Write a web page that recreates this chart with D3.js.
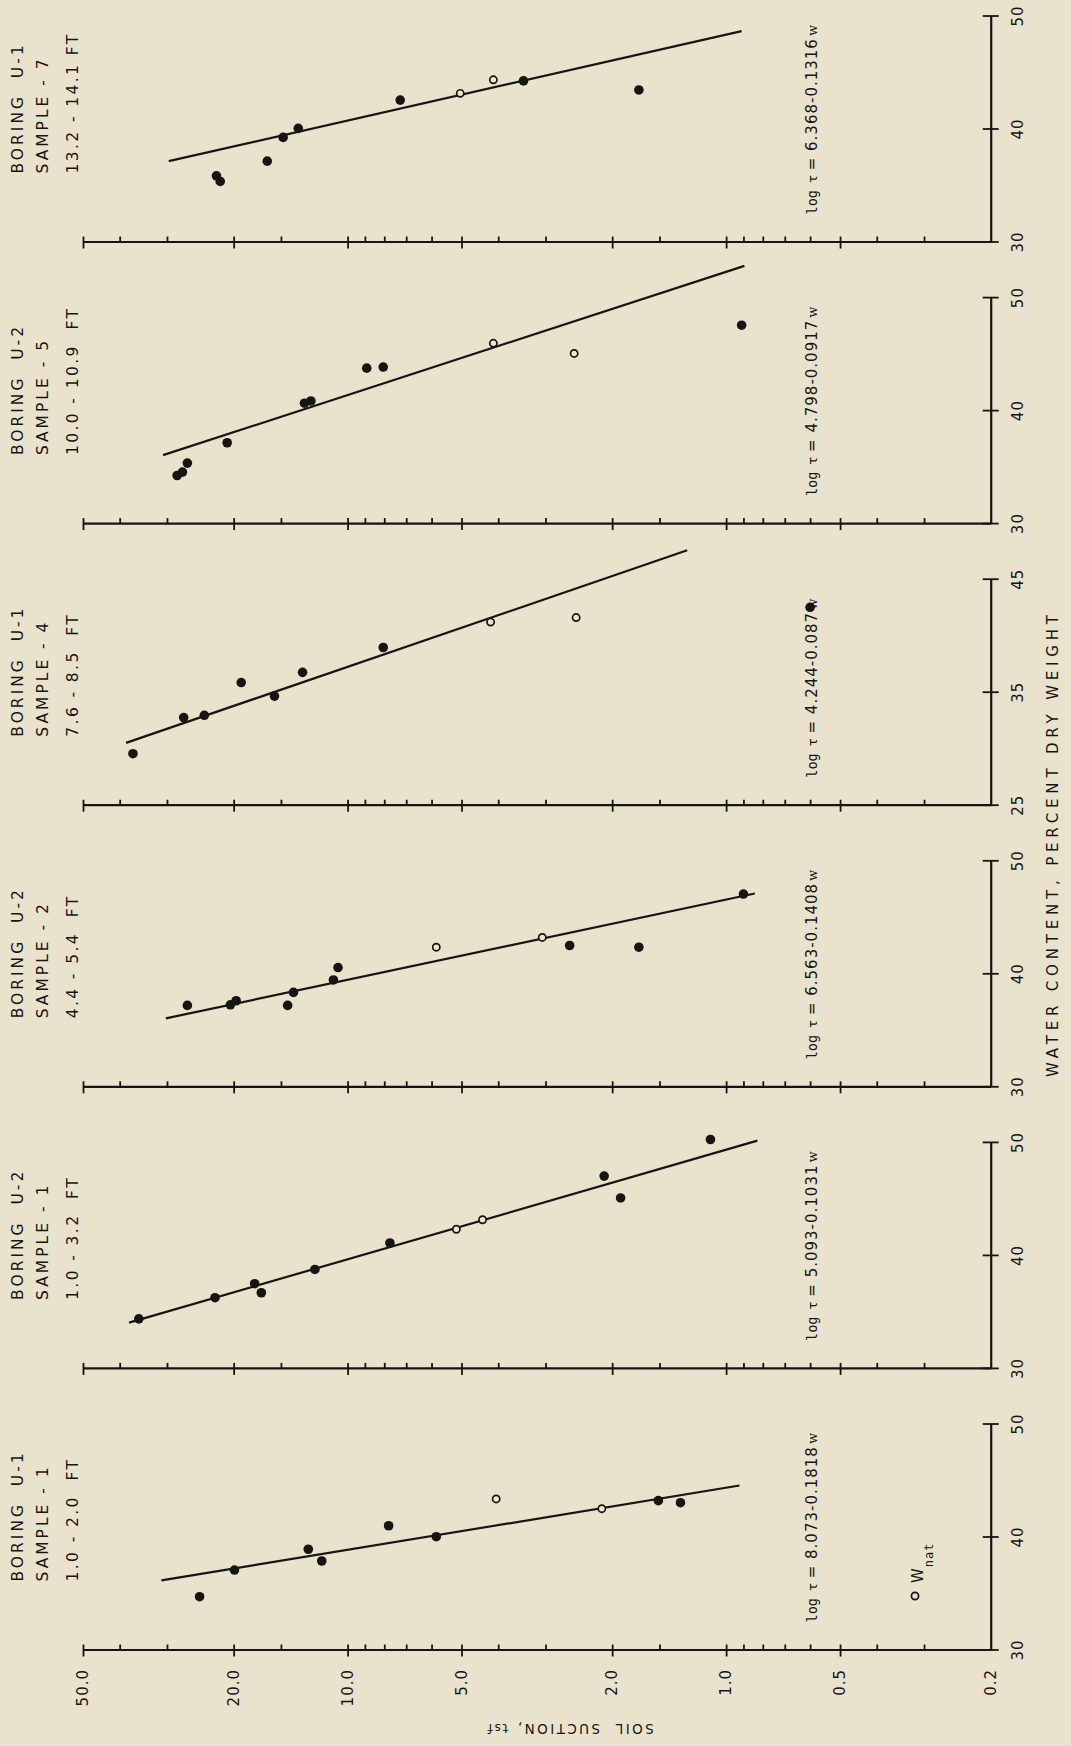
<!DOCTYPE html>
<html>
<head>
<meta charset="utf-8">
<script src="https://cdn.jsdelivr.net/npm/d3@7"></script>
<style>
  html, body { margin: 0; padding: 0; background: #e9e2cd; }
  svg { display: block; }
</style>
</head>
<body>
<svg id="chart" width="1071" height="1746"></svg>
<script>
// Soil suction vs. water content, one panel per sample (left to right on the page)
const borings = ["U-1", "U-2", "U-2", "U-1", "U-2", "U-1"];
const samples = ["1", "1", "2", "4", "5", "7"];
const depths = ["1.0 - 2.0  FT", "1.0 - 3.2  FT", "4.4 - 5.4  FT", "7.6 - 8.5  FT", "10.0 - 10.9  FT", "13.2 - 14.1 FT"];

// Fitted lines: log τ = a - b·w
const intercepts = [8.073, 5.093, 6.563, 4.244, 4.798, 6.368];
const slopes = [0.1818, 0.1031, 0.1408, 0.087, 0.0917, 0.1316];
const interceptText = ["8.073", "5.093", "6.563", "4.244", "4.798", "6.368"];
const slopeText = ["0.1818", "0.1031", "0.1408", "0.087", "0.0917", "0.1316"];
// water-content extent over which each fitted line is drawn
const fitRange = [[36.2, 44.6], [34.1, 50.2], [36.1, 47.15], [30.56, 47.6], [36.1, 52.85], [37.2, 48.7]];

// Water-content axis of each panel
const wMin = [30, 30, 30, 25, 30, 30];
const wTicks = [[30, 40, 50], [30, 40, 50], [30, 40, 50], [25, 35, 45], [30, 40, 50], [30, 40, 50]];

// Measured points [soil suction (tsf), water content (%)]
const filledPoints = [
  [[24.6, 34.76], [19.9, 37.12], [12.7, 38.96], [11.7, 37.92], [7.79, 41.04], [5.83, 40.07], [1.51, 43.26], [1.32, 43.08]],
  [[35.6, 34.43], [22.4, 36.3], [17.6, 37.54], [16.9, 36.74], [12.2, 38.8], [7.73, 41.14], [2.10, 47.06], [1.90, 45.13], [1.10, 50.3]],
  [[26.5, 37.25], [20.4, 37.3], [19.7, 37.66], [14.4, 37.25], [13.9, 38.4], [10.9, 39.5], [10.6, 40.6], [2.59, 42.55], [1.70, 42.4], [0.90, 47.1]],
  [[36.9, 29.6], [27.1, 32.8], [23.9, 33.0], [19.1, 35.9], [15.6, 34.7], [13.15, 36.8], [8.05, 39.0], [0.60, 42.56]],
  [[28.2, 34.3], [27.3, 34.6], [26.5, 35.4], [20.8, 37.2], [13.0, 40.7], [12.5, 40.9], [8.9, 43.8], [8.05, 43.9], [0.91, 47.6]],
  [[22.2, 35.9], [21.7, 35.4], [16.3, 37.2], [14.8, 39.3], [13.5, 40.1], [7.26, 42.6], [3.43, 44.3], [1.70, 43.5]]
];
// Natural water content points (open circles)
const openPoints = [
  [[4.05, 43.41], [2.13, 42.55]],
  [[5.16, 42.36], [4.40, 43.2]],
  [[5.83, 42.4], [3.06, 43.26]],
  [[4.19, 41.25], [2.49, 41.65]],
  [[4.12, 46.0], [2.52, 45.1]],
  [[5.04, 43.2], [4.12, 44.4]]
];

// Soil suction (log) axis ticks
const suctionMajor = [50, 20, 10, 5, 2, 1, 0.5, 0.2];
const suctionLabels = ["50.0", "20.0", "10.0", "5.0", "2.0", "1.0", "0.5", "0.2"];
const suctionMinor = [40, 30, 15, 9, 8, 7, 6, 4, 3, 1.5, 0.9, 0.8, 0.7, 0.6, 0.4, 0.3];

const W = 1071, H = 1746;
const ink = "#171513";
const sans = "'DejaVu Sans', 'Noto Sans', sans-serif";
const mono = "'DejaVu Sans Mono', 'Liberation Mono', monospace";

const svg = d3.select("#chart");
svg.append("rect").attr("width", W).attr("height", H).attr("fill", "#e9e2cd");

// The figure is laid out landscape and turned a quarter turn on the page
const g = svg.append("g").attr("transform", `translate(0,${H}) rotate(-90)`);

const y = d3.scaleLog().domain([50, 0.2]).range([83, 990.7]);
const panelLeft = 95.5, panelStep = 281.6, panelWidth = 226;
const majorSet = new Set(suctionMajor);

function styleAxis(sel) {
  sel.attr("font-family", sans).attr("font-size", 15);
  sel.selectAll("path.domain").attr("stroke", ink).attr("stroke-width", 2.2);
  sel.selectAll(".tick line").attr("stroke", ink).attr("stroke-width", 1.8);
  sel.selectAll(".tick text").attr("fill", ink);
}

borings.forEach((boring, i) => {
  const x0 = panelLeft + panelStep * i;
  const x = d3.scaleLinear().domain([wMin[i], wMin[i] + 20]).range([x0, x0 + panelWidth]);
  const p = g.append("g").attr("class", "panel");

  // soil suction axis with ticks pointing into the panel
  const ya = p.append("g").attr("transform", `translate(${x0},0)`)
    .call(d3.axisRight(y).tickValues(suctionMajor.concat(suctionMinor))
      .tickSize(6).tickSizeOuter(0).tickFormat(""));
  ya.selectAll(".tick").filter(d => majorSet.has(d) && d !== 0.2).select("line").attr("x1", -6);
  ya.selectAll(".tick").filter(d => d === 0.2).remove();
  styleAxis(ya);

  // water content axis
  const xa = p.append("g").attr("transform", `translate(0,${y(0.2)})`)
    .call(d3.axisBottom(x).tickValues(wTicks[i]).tickSize(8).tickSizeOuter(0).tickPadding(14));
  xa.selectAll(".tick line").attr("y1", -8);
  styleAxis(xa);
  xa.selectAll(".tick text").attr("letter-spacing", 1);

  // fitted line
  const a = intercepts[i], b = slopes[i];
  const line = d3.line().x(d => x(d)).y(d => y(Math.pow(10, a - b * d)));
  p.append("path").datum(fitRange[i]).attr("d", line)
    .attr("fill", "none").attr("stroke", ink).attr("stroke-width", 2.2);

  // measured points
  p.selectAll("circle.filled").data(filledPoints[i]).join("circle")
    .attr("class", "filled")
    .attr("cx", d => x(d[1])).attr("cy", d => y(d[0]))
    .attr("r", 4.8).attr("fill", ink);
  p.selectAll("circle.open").data(openPoints[i]).join("circle")
    .attr("class", "open")
    .attr("cx", d => x(d[1])).attr("cy", d => y(d[0]))
    .attr("r", 3.6).attr("fill", "#ece6d2").attr("stroke", ink).attr("stroke-width", 1.7);

  // panel heading
  const head = [`BORING  ${boring}`, `SAMPLE - ${samples[i]}`, depths[i]];
  const headY = [23, 48, 78];
  const headSpacing = [3, 3, 2.4];
  head.forEach((t, k) => {
    p.append("text").attr("x", x0 + 69).attr("y", headY[k])
      .attr("font-family", sans).attr("font-size", 15.5)
      .attr("letter-spacing", headSpacing[k]).style("white-space", "pre")
      .attr("fill", ink).text(t);
  });

  // equation of the fitted line
  const eq = p.append("text").attr("x", x0 + 28).attr("y", 817)
    .attr("fill", ink).style("white-space", "pre");
  eq.append("tspan").attr("font-family", mono).attr("font-size", 13.5).text("log");
  eq.append("tspan").attr("font-family", sans).attr("font-size", 13).attr("dx", 7).text("τ");
  eq.append("tspan").attr("font-family", sans).attr("font-size", 15).attr("dx", 5)
    .attr("letter-spacing", 1).text(`= ${interceptText[i]}-${slopeText[i]}`);
  eq.append("tspan").attr("font-family", "'DejaVu Serif', serif").attr("font-size", 13)
    .attr("dx", 2).text("w");
});

// soil suction labels on the first panel
const yl = g.append("g").attr("transform", `translate(${panelLeft},0)`)
  .call(d3.axisLeft(y).tickValues(suctionMajor).tickSize(0).tickPadding(18.5)
    .tickFormat((d, k) => suctionLabels[k]));
yl.select("path.domain").remove();
styleAxis(yl);
yl.selectAll(".tick text").attr("letter-spacing", 1);

// legend for natural water content
const legX = 150, legY = 915;
g.append("circle").attr("cx", legX).attr("cy", legY).attr("r", 3.6)
  .attr("fill", "none").attr("stroke", ink).attr("stroke-width", 1.7);
const leg = g.append("text").attr("x", legX + 13).attr("y", legY + 8).attr("fill", ink);
leg.append("tspan").attr("font-family", sans).attr("font-size", 15).text("W");
leg.append("tspan").attr("font-family", mono).attr("font-size", 12).attr("dy", 10).attr("dx", 1)
  .attr("letter-spacing", 1).text("nat");

// axis titles
g.append("text").attr("x", 900).attr("y", 1058).attr("text-anchor", "middle")
  .attr("font-family", sans).attr("font-size", 15).attr("fill", ink)
  .attr("textLength", 462).attr("lengthAdjust", "spacing")
  .text("WATER CONTENT, PERCENT DRY WEIGHT");

const yt = g.append("text").attr("transform", "translate(22,570) rotate(-90)")
  .attr("text-anchor", "middle").attr("fill", ink).style("white-space", "pre");
yt.append("tspan").attr("font-family", sans).attr("font-size", 13.5).attr("letter-spacing", 2.4).text("SOIL  SUCTION, ");
yt.append("tspan").attr("font-family", mono).attr("font-size", 12.5).text("tsf");
</script>
</body>
</html>
